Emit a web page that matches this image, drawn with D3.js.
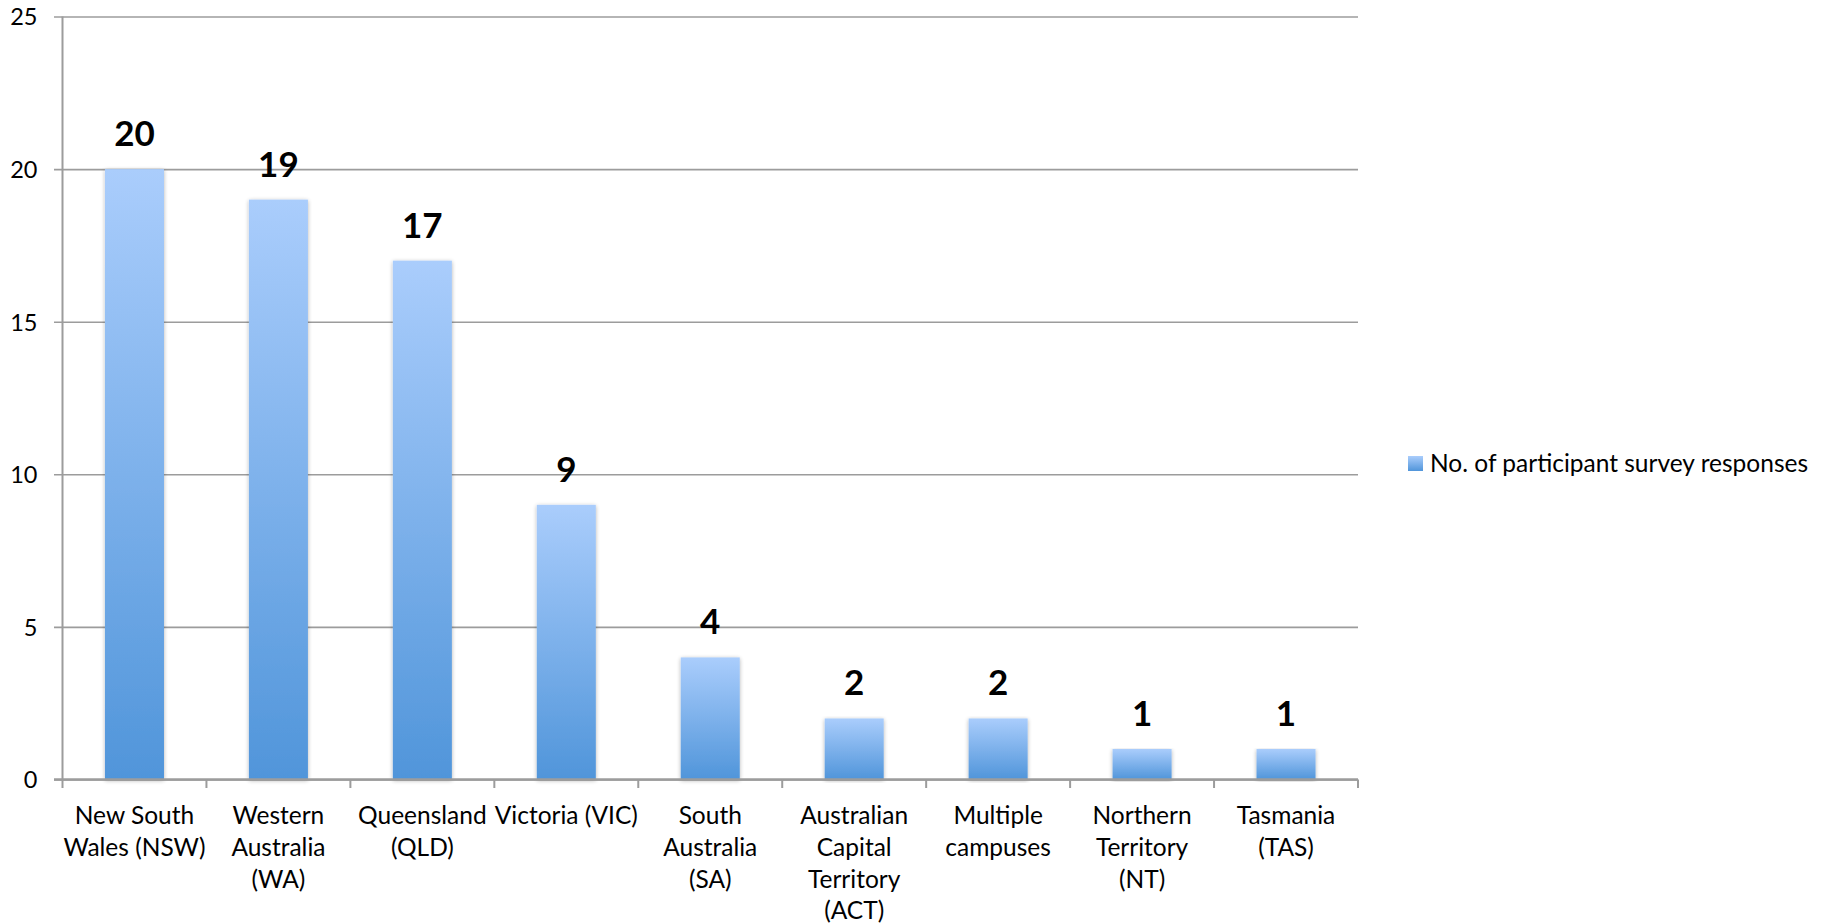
<!DOCTYPE html>
<html>
<head>
<meta charset="utf-8">
<script src="https://cdn.jsdelivr.net/npm/d3@7"></script>
<style>
  html, body { margin: 0; padding: 0; background: #fff; }
  svg { display: block; font-family: Lato, "Open Sans", sans-serif; }
</style>
</head>
<body>
<svg id="chart" width="1831" height="923"></svg>
<script>
// Survey responses by state / territory
const categories = [
  ["New South", "Wales (NSW)"],
  ["Western", "Australia", "(WA)"],
  ["Queensland", "(QLD)"],
  ["Victoria (VIC)"],
  ["South", "Australia", "(SA)"],
  ["Australian", "Capital", "Territory", "(ACT)"],
  ["Multiple", "campuses"],
  ["Northern", "Territory", "(NT)"],
  ["Tasmania", "(TAS)"]
];
const responses = [20, 19, 17, 9, 4, 2, 2, 1, 1];
const yTicks = [0, 5, 10, 15, 20, 25];
const seriesName = "No. of participant survey responses";

const svg = d3.select("#chart");
const margin = { left: 62.5, right: 1358, top: 16.5, bottom: 779.5 };

const x = d3.scaleBand()
  .domain(d3.range(categories.length))
  .range([margin.left, margin.right])
  .paddingInner(0.59)
  .paddingOuter(0.295);

const xCat = d3.scaleBand()
  .domain(d3.range(categories.length))
  .range([margin.left, margin.right]);

const y = d3.scaleLinear().domain([0, 25]).range([margin.bottom, margin.top]);

// Gradient and soft shadow for bars
const defs = svg.append("defs");
const grad = defs.append("linearGradient")
  .attr("id", "barGrad").attr("x1", 0).attr("y1", 0).attr("x2", 0).attr("y2", 1);
grad.append("stop").attr("offset", "0%").attr("stop-color", "#aacdfc");
grad.append("stop").attr("offset", "100%").attr("stop-color", "#5095da");

const shadow = defs.append("filter").attr("id", "barShadow")
  .attr("x", "-20%").attr("y", "-5%").attr("width", "140%").attr("height", "110%");
shadow.append("feGaussianBlur").attr("in", "SourceAlpha").attr("stdDeviation", 2);
shadow.append("feOffset").attr("dx", 0).attr("dy", 1).attr("result", "blur");
shadow.append("feComponentTransfer").append("feFuncA").attr("type", "linear").attr("slope", 0.3);
const merge = shadow.append("feMerge");
merge.append("feMergeNode");
merge.append("feMergeNode").attr("in", "SourceGraphic");

// Horizontal gridlines with left tick marks
const yAxis = d3.axisLeft(y)
  .tickValues(yTicks)
  .tickSize(-(margin.right - margin.left))
  .tickSizeOuter(0)
  .tickPadding(25);

const gy = svg.append("g")
  .attr("transform", `translate(${margin.left},0)`)
  .call(yAxis);
gy.select(".domain").remove();
gy.selectAll(".tick line")
  .attr("x1", -8.5)
  .attr("stroke", "#9c9c9c")
  .attr("stroke-width", 1.6);
gy.selectAll(".tick text")
  .attr("font-size", 23.5)
  .attr("font-family", "Lato, sans-serif")
  .attr("fill", "#000")
  .attr("dy", "0.36em");

// Bars
svg.append("g").selectAll("rect")
  .data(responses)
  .join("rect")
  .attr("x", (d, i) => x(i))
  .attr("width", x.bandwidth())
  .attr("y", d => y(d))
  .attr("height", d => y(0) - y(d))
  .attr("fill", "url(#barGrad)")
  .attr("filter", "url(#barShadow)");

// Vertical axis line
svg.append("line")
  .attr("x1", margin.left).attr("x2", margin.left)
  .attr("y1", margin.top).attr("y2", margin.bottom)
  .attr("stroke", "#9c9c9c").attr("stroke-width", 2);

// Category axis with ticks between categories
const boundaries = d3.range(categories.length + 1).map(i =>
  i < categories.length ? xCat(i) : margin.right);
svg.append("line")
  .attr("x1", margin.left - 8.5).attr("x2", margin.right)
  .attr("y1", margin.bottom).attr("y2", margin.bottom)
  .attr("stroke", "#9c9c9c").attr("stroke-width", 2.4);
svg.append("g").selectAll("line")
  .data(boundaries)
  .join("line")
  .attr("x1", d => d).attr("x2", d => d)
  .attr("y1", margin.bottom).attr("y2", margin.bottom + 8.5)
  .attr("stroke", "#9c9c9c").attr("stroke-width", 2);

// Category labels
const labels = svg.append("g").selectAll("text")
  .data(categories)
  .join("text")
  .attr("x", (d, i) => xCat(i) + xCat.bandwidth() / 2)
  .attr("y", 824)
  .attr("text-anchor", "middle")
  .attr("font-size", 24.5)
  .attr("fill", "#000");
labels.selectAll("tspan")
  .data(d => d)
  .join("tspan")
  .attr("x", function () { return d3.select(this.parentNode).attr("x"); })
  .attr("dy", (d, i) => i === 0 ? 0 : 31.8)
  .text(d => d);

// Value labels
svg.append("g").selectAll("text")
  .data(responses)
  .join("text")
  .attr("x", (d, i) => x(i) + x.bandwidth() / 2)
  .attr("y", d => y(d) - 23)
  .attr("text-anchor", "middle")
  .attr("font-size", 35)
  .attr("font-weight", "bold")
  .attr("fill", "#000")
  .text(d => d);

// Legend
const legend = svg.append("g").attr("transform", "translate(1408,456)");
legend.append("rect")
  .attr("width", 15).attr("height", 15)
  .attr("fill", "url(#barGrad)");
legend.append("text")
  .attr("x", 22).attr("y", 15.5)
  .attr("font-size", 24.5)
  .attr("fill", "#000")
  .text(seriesName);
</script>
</body>
</html>
